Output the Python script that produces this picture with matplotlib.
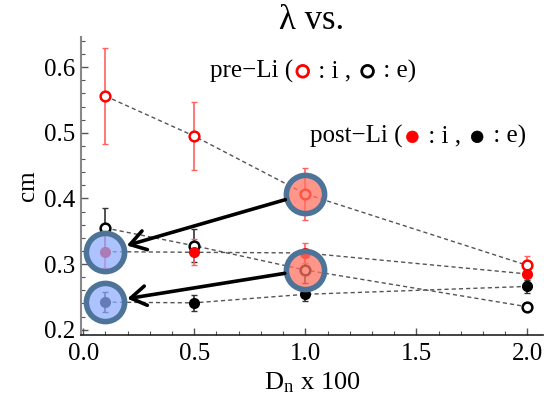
import matplotlib
matplotlib.use("Agg")
import matplotlib.pyplot as plt
from matplotlib.offsetbox import TextArea, DrawingArea, HPacker, AnnotationBbox
from matplotlib.patches import Circle
from matplotlib.ticker import MultipleLocator

plt.rcParams['font.family'] = ['Liberation Serif', 'DejaVu Serif']
plt.rcParams['mathtext.fontset'] = 'stix'

# Data
x = [0.1, 0.5, 1.0, 2.0]
pre_i = [0.556, 0.495, 0.407, 0.298]
pre_i_err = [0.073, 0.052, 0.040, 0.015]
pre_e = [0.355, 0.328, 0.291, 0.235]
pre_e_err = [0.030, 0.025, 0.020, 0.006]
post_i = [0.319, 0.318, 0.317, 0.285]
post_i_err = [0.025, 0.020, 0.015, 0.010]
post_e = [0.242, 0.241, 0.254, 0.266]
post_e_err = [0.015, 0.012, 0.010, 0.010]

title = "λ vs."
xlabel = r"D$_\mathregular{n}$ x 100"
ylabel = "cm"

fig = plt.figure(figsize=(5.44, 4.08), dpi=100)
ax = fig.add_axes([81/544, 1-335/408, (543-81)/544, (335-37)/408])
ax.set_xlim(-0.01, 2.07)
ax.set_ylim(0.192, 0.646)

dash = dict(color='#555555', lw=1.0, ls=(0, (3, 2.2)), zorder=1)
for ys in (pre_i, pre_e, post_i, post_e):
    ax.plot(x, ys, **dash)

red = '#ff0000'
ax.errorbar(x, pre_i, yerr=pre_i_err, fmt='none', ecolor='#ff6060', elinewidth=1.2, capsize=2.5, zorder=2)
ax.errorbar(x, pre_e, yerr=pre_e_err, fmt='none', ecolor='#333333', elinewidth=1.2, capsize=2.5, zorder=2)
ax.errorbar(x, post_i, yerr=post_i_err, fmt='none', ecolor='#ff6060', elinewidth=1.2, capsize=2.5, zorder=2)
ax.errorbar(x, post_e, yerr=post_e_err, fmt='none', ecolor='#333333', elinewidth=1.2, capsize=2.5, zorder=2)

ax.plot(x, pre_i, 'o', ms=7, mfc='white', mec=red, mew=1.8, ls='none', zorder=3)
ax.plot(x, pre_e, 'o', ms=7, mfc='white', mec='black', mew=1.8, ls='none', zorder=3)
ax.plot(x, post_i, 'o', ms=7, mfc=red, mec=red, ls='none', zorder=3)
ax.plot(x, post_e, 'o', ms=7, mfc='black', mec='black', ls='none', zorder=3)

# highlight circles
ring = '#4d7399'
ax.plot([x[2], x[2]], [pre_i[2], pre_e[2]], 'o', ms=27.5, mfc=(1.0, 0.45, 0.38, 0.75),
        mec=ring, mew=4.0, ls='none', zorder=4)
ax.plot([x[0], x[0]], [post_i[0], post_e[0]], 'o', ms=27.5, mfc=(0.55, 0.68, 1.0, 0.72),
        mec=ring, mew=4.0, ls='none', zorder=4)

# arrows
for ys, ye in ((pre_i[2], post_i[0]), (pre_e[2], post_e[0])):
    ax.annotate('', xy=(x[0], ye), xytext=(x[2], ys),
                arrowprops=dict(arrowstyle='->,head_length=1.1,head_width=0.7',
                                color='black', lw=2.6, shrinkA=15, shrinkB=16),
                zorder=5)

ax.set_title(title, fontsize=25, pad=1)
ax.set_xlabel(xlabel, fontsize=19, labelpad=4)
ax.set_ylabel(ylabel, fontsize=18, labelpad=4)

ax.xaxis.set_major_locator(MultipleLocator(0.5))
ax.xaxis.set_minor_locator(MultipleLocator(0.1))
ax.yaxis.set_major_locator(MultipleLocator(0.1))
ax.yaxis.set_minor_locator(MultipleLocator(0.02))
ax.xaxis.set_major_formatter(matplotlib.ticker.FormatStrFormatter('%.1f'))
ax.yaxis.set_major_formatter(matplotlib.ticker.FormatStrFormatter('%.1f'))
ax.tick_params(which='both', direction='in', labelsize=18, color='#555555')
ax.tick_params(which='major', length=5, width=1)
ax.tick_params(which='minor', length=3, width=0.8)
ax.tick_params(axis='x', pad=6)
ax.tick_params(axis='y', pad=4)
for s in ('top', 'right'):
    ax.spines[s].set_visible(False)
ax.spines['left'].set_color('#888888')
ax.spines['left'].set_linewidth(1.5)
ax.spines['bottom'].set_color('#222222')
ax.spines['bottom'].set_linewidth(1.2)


def marker_box(color, filled):
    da = DrawingArea(12, 12, 0, 0)
    c = Circle((6, 6), 4.2, fc=color if filled else 'white', ec=color, lw=2.0 if not filled else 0.5)
    da.add_artist(c)
    return da


tp = dict(fontsize=18)
pre_children = [TextArea("pre−Li (", textprops=tp), marker_box(red, False),
                TextArea(" : i , ", textprops=tp), marker_box('black', False),
                TextArea(" : e)", textprops=tp)]
post_children = [TextArea("post−Li (", textprops=tp), marker_box(red, True),
                 TextArea(" : i , ", textprops=tp), marker_box('black', True),
                 TextArea(" : e)", textprops=tp)]
for children, pos in ((pre_children, (0.279, 0.885)), (post_children, (0.496, 0.665))):
    hp = HPacker(children=children, align='center', pad=0, sep=1)
    ab = AnnotationBbox(hp, pos, xycoords=ax.transAxes, frameon=False,
                        box_alignment=(0, 0.5), annotation_clip=False)
    ax.add_artist(ab)

fig.savefig('out.png', dpi=100)
